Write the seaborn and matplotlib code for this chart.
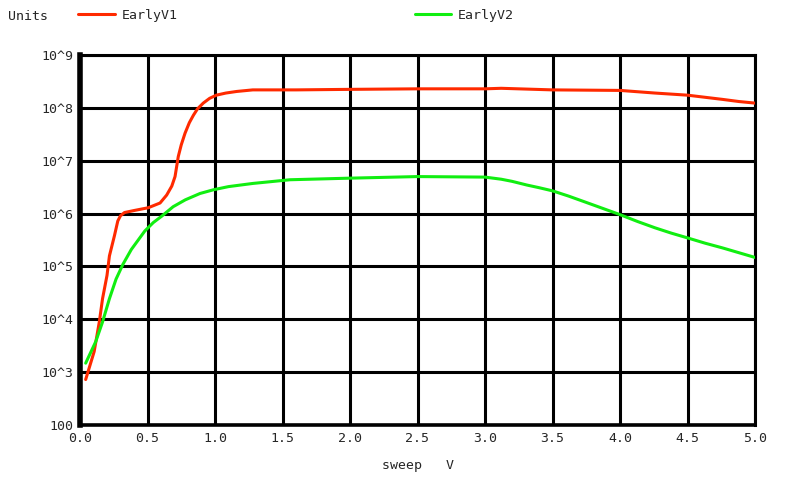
import numpy as np
import pandas as pd
import matplotlib
matplotlib.use("Agg")
import matplotlib.pyplot as plt
from matplotlib.lines import Line2D
import seaborn as sns

# sweep voltage and log10(units)
v1_sweep = [0.042, 0.105, 0.143, 0.167, 0.20, 0.218, 0.255, 0.28, 0.30, 0.33,
            0.405, 0.505, 0.593, 0.642, 0.68, 0.704, 0.728, 0.75, 0.778,
            0.81, 0.84, 0.87, 0.913, 0.96, 1.01, 1.08, 1.16, 1.28, 1.6,
            2.0, 2.5, 3.0, 3.12, 3.5, 3.75, 4.0, 4.13, 4.26, 4.38,
            4.5, 4.63, 4.76, 4.88, 5.0]
v1_log = [2.86, 3.39, 3.95, 4.39, 4.83, 5.20, 5.58, 5.86, 5.96, 6.02,
          6.06, 6.11, 6.20, 6.35, 6.52, 6.70, 7.08, 7.30, 7.52,
          7.72, 7.86, 7.98, 8.09, 8.18, 8.24, 8.28, 8.31, 8.34, 8.34,
          8.35, 8.36, 8.36, 8.37, 8.34, 8.335, 8.33, 8.305, 8.28, 8.26,
          8.24, 8.20, 8.16, 8.12, 8.09]

v2_sweep = [0.042, 0.117, 0.167, 0.218, 0.267, 0.318, 0.38, 0.48, 0.543, 0.605,
            0.69, 0.78, 0.889, 0.988, 1.1, 1.28, 1.556,
            2.0, 2.5, 3.0, 3.12, 3.2, 3.31, 3.4, 3.5, 3.62, 3.74,
            3.87, 4.0, 4.13, 4.26, 4.38, 4.5, 4.63, 4.76, 4.88, 5.0]
v2_log = [3.17, 3.58, 3.95, 4.39, 4.76, 5.04, 5.32, 5.67, 5.83, 5.95,
          6.13, 6.26, 6.38, 6.45, 6.51, 6.57, 6.64,
          6.67, 6.70, 6.69, 6.65, 6.61, 6.54, 6.49, 6.43, 6.33, 6.22,
          6.10, 5.98, 5.85, 5.73, 5.63, 5.54, 5.44, 5.35, 5.26, 5.17]

y_ticks = [1e2, 1e3, 1e4, 1e5, 1e6, 1e7, 1e8, 1e9]
y_labels = ["100", "10^3", "10^4", "10^5", "10^6", "10^7", "10^8", "10^9"]
x_ticks = [0.0, 0.5, 1.0, 1.5, 2.0, 2.5, 3.0, 3.5, 4.0, 4.5, 5.0]

df = pd.concat([
    pd.DataFrame({"sweep": v1_sweep, "units": np.power(10.0, v1_log), "trace": "EarlyV1"}),
    pd.DataFrame({"sweep": v2_sweep, "units": np.power(10.0, v2_log), "trace": "EarlyV2"}),
])

sns.set_style("white")
plt.rcParams['font.family'] = ['DejaVu Sans Mono']

red = "#ff2a00"
green = "#11ee11"

fig = plt.figure(figsize=(7.88, 4.79), dpi=100)
ax = fig.add_axes([80/788, 54/479, 675/788, 370/479])

sns.lineplot(data=df, x="sweep", y="units", hue="trace",
             palette={"EarlyV1": red, "EarlyV2": green},
             linewidth=2.2, legend=False, ax=ax, zorder=3)

ax.set_yscale("log")
ax.set_xlim(0, 5)
ax.set_ylim(1e2, 1e9)
ax.set_yticks(y_ticks)
ax.set_yticklabels(y_labels)
ax.minorticks_off()
ax.set_xticks(x_ticks)
ax.set_xticklabels([f"{t:.1f}" for t in x_ticks])
ax.tick_params(length=0, labelsize=9.5, pad=5)
ax.grid(True, color="black", linewidth=2.2)
for s in ["top", "right"]:
    ax.spines[s].set_linewidth(2.2)
ax.spines["left"].set_linewidth(4)
ax.spines["bottom"].set_linewidth(2.6)
for s in ax.spines.values():
    s.set_color("black")
ax.set_xlabel("sweep   V", fontsize=9.5, labelpad=10)
ax.set_ylabel("")

# header legend
fig.text(8/788, 1 - 16/479, "Units", fontsize=9.5, va="center")
fig.add_artist(Line2D([78/788, 115/788], [1 - 14/479] * 2, color=red, linewidth=2.2))
fig.text(122/788, 1 - 16/479, "EarlyV1", fontsize=9.5, va="center")
fig.add_artist(Line2D([415/788, 451/788], [1 - 14/479] * 2, color=green, linewidth=2.2))
fig.text(458/788, 1 - 16/479, "EarlyV2", fontsize=9.5, va="center")

fig.savefig("out.png", dpi=100)
